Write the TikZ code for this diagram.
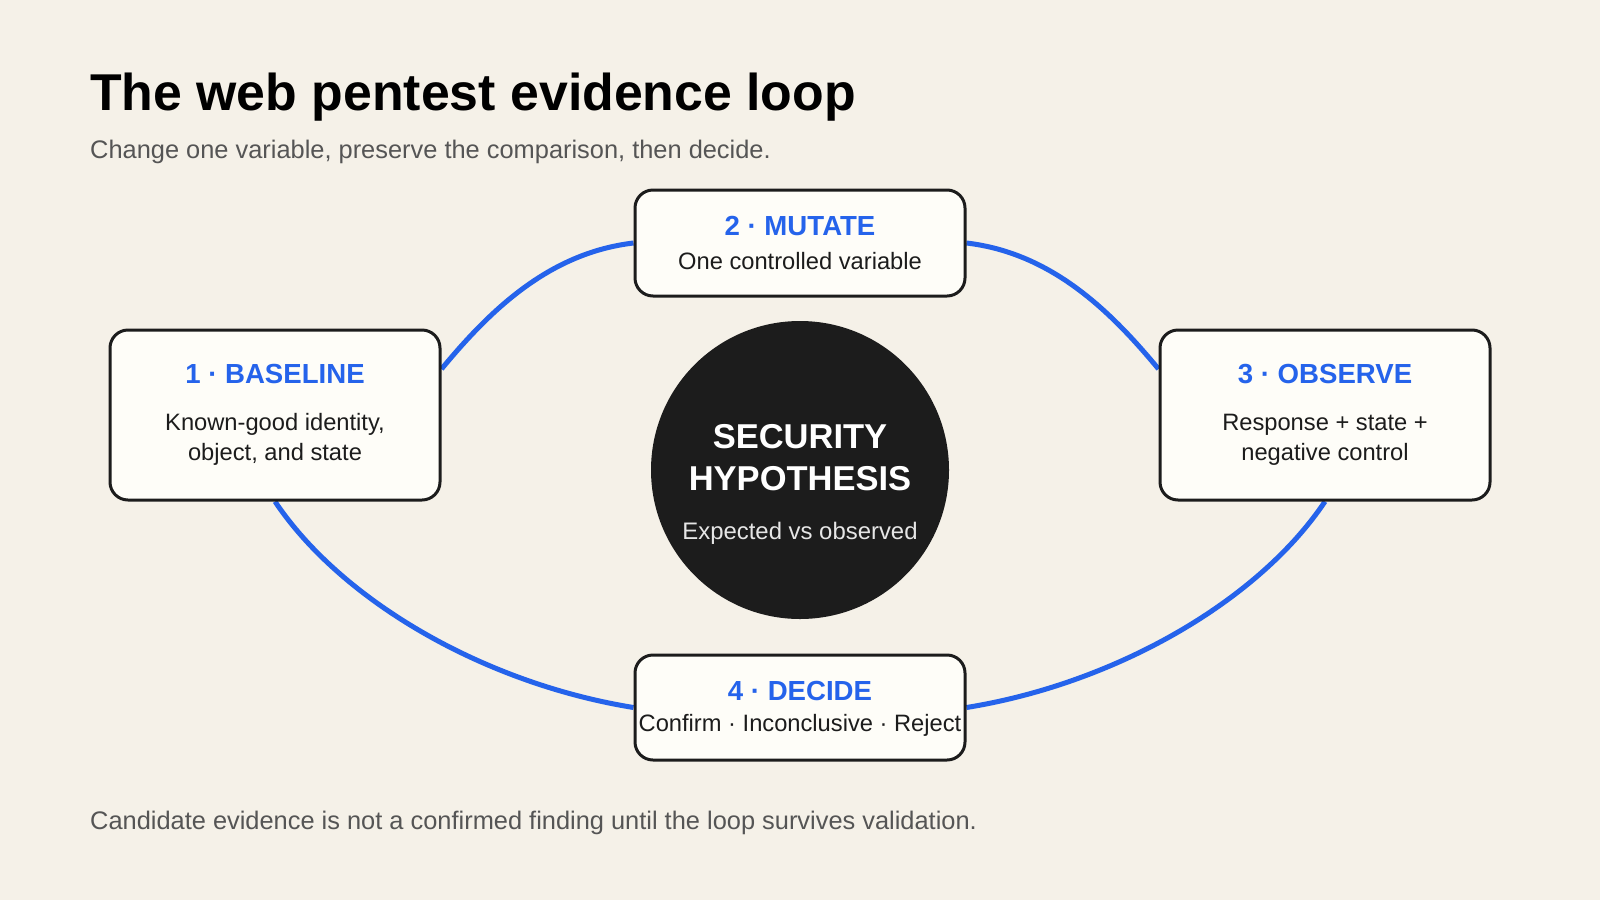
\documentclass[tikz,border=0pt]{standalone}
\usepackage{fontspec}
\setmainfont{Liberation Sans}
\definecolor{paper}{HTML}{F5F1E8}
\definecolor{card}{HTML}{FEFDF8}
\definecolor{ink}{HTML}{1C1C1C}
\definecolor{accent}{HTML}{2563EB}
\definecolor{muted}{HTML}{555555}
\definecolor{soft}{HTML}{E6E6E6}
\pgfdeclarelayer{bg}
\pgfsetlayers{bg,main}
\tikzset{
  stepbox/.style={draw=ink, line width=3pt, fill=card, rounded corners=18pt, minimum width=330pt, inner sep=0pt},
  link/.style={draw=accent, line width=5pt},
  boxtitle/.style={text=accent, font=\fontsize{27.6}{30}\selectfont\bfseries, anchor=base, inner sep=0pt},
  boxbody/.style={text=ink, font=\fontsize{23.7}{28}\selectfont, anchor=base, inner sep=0pt},
  hyptitle/.style={text=white, font=\fontsize{34.5}{38}\selectfont\bfseries, anchor=base, inner sep=0pt},
  hypbody/.style={text=soft, font=\fontsize{23.9}{28}\selectfont, anchor=base, inner sep=0pt},
  note/.style={text=muted, font=\fontsize{25.4}{28}\selectfont, anchor=base west, inner sep=0pt}
}
\begin{document}
\begin{tikzpicture}[x=1pt,y=-1pt]
\useasboundingbox (0,0) rectangle (1600,900);
% header
\node[anchor=base west, inner sep=0pt, text=black, font=\fontsize{51.8}{58}\selectfont\bfseries] (title) at (90,110) {The web pentest evidence loop};
\node[note] (sub) at (90,158) {Change one variable, preserve the comparison, then decide.};
% boxes
\node[stepbox, minimum height=170pt] (b1) at (275,415) {};
\node[stepbox, minimum height=106pt] (b2) at (800,243) {};
\node[stepbox, minimum height=170pt] (b3) at (1325,415) {};
\node[stepbox, minimum height=105pt] (b4) at (800,707.5) {};
% center
\node[circle, fill=ink, minimum size=298pt, inner sep=0pt] (hyp) at (800,470) {};
\node[hyptitle] (h1) at (800,448) {SECURITY};
\node[hyptitle] (h2) at (800,490) {HYPOTHESIS};
\node[hypbody] (h3) at (800,539) {Expected vs observed};
% box texts
\node[boxtitle] (t1) at (275,383) {1 · BASELINE};
\node[boxbody] (t1a) at (275,430) {Known-good identity,};
\node[boxbody] (t1b) at (275,460) {object, and state};
\node[boxtitle] (t2) at (800,235) {2 · MUTATE};
\node[boxbody] (t2a) at (800,269) {One controlled variable};
\node[boxtitle] (t3) at (1325,383) {3 · OBSERVE};
\node[boxbody] (t3a) at (1325,430) {Response + state +};
\node[boxbody] (t3b) at (1325,460) {negative control};
\node[boxtitle] (t4) at (800,700) {4 · DECIDE};
\node[boxbody] (t4a) at (800,731) {Confirm · Inconclusive · Reject};
% footer
\node[note] (foot) at (90,829.5) {Candidate evidence is not a confirmed finding until the loop survives validation.};
\begin{pgfonlayer}{bg}
\fill[paper] (0,0) rectangle (1600,900);
\draw[link] ([yshift=46pt]b1.east) .. controls +(48,-58) and +(-85,10) .. (b2.west);
\draw[link] (b2.east) .. controls +(85,10) and +(-48,-58) .. ([yshift=46pt]b3.west);
\draw[link] (b3.south) .. controls +(-67,100) and +(148.5,-24) .. (b4.east);
\draw[link] (b4.west) .. controls +(-148.5,-24) and +(67,100) .. (b1.south);
\end{pgfonlayer}
\end{tikzpicture}
\end{document}
